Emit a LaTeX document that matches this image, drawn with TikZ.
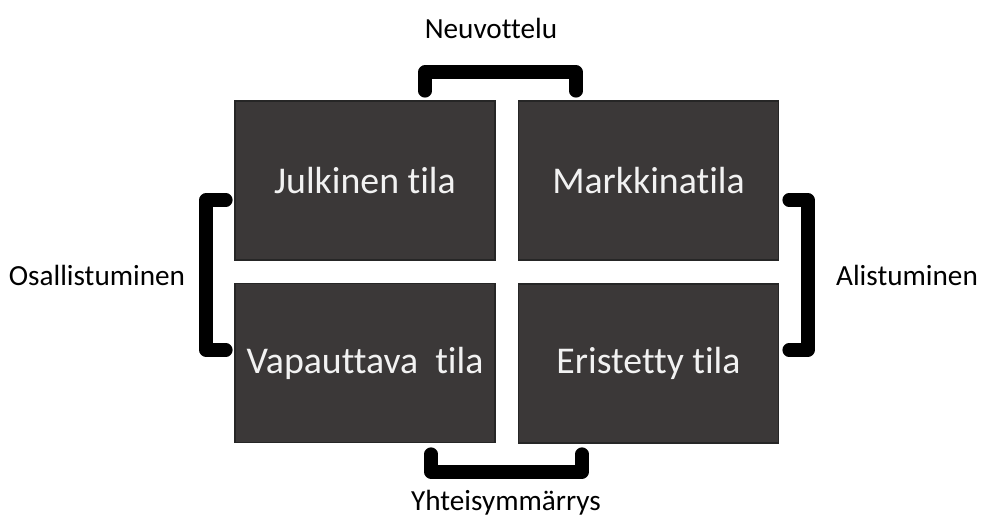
\documentclass[tikz,border=0pt]{standalone}
\usepackage{fontspec}
\setmainfont{Carlito}[RawFeature={-liga;-clig;-calt;-dlig;-rlig}]
\definecolor{boxfill}{HTML}{3B3838}
\definecolor{boxline}{HTML}{262626}
\definecolor{boxtext}{HTML}{F2F2F2}
\begin{document}
\begin{tikzpicture}[x=0.5pt,y=-0.5pt,
  space/.style={draw=boxline,line width=0.8pt,fill=boxfill,minimum width=130pt,
    minimum height=79.5pt,inner sep=0pt,text=boxtext,font=\fontsize{18.9}{22}\selectfont},
  bracket/.style={line width=6.6pt,line cap=round,line join=round},
  lbl/.style={font=\fontsize{14.6}{17}\selectfont,inner sep=0pt}]
\useasboundingbox (0,0) rectangle (981,518);
% four spaces
\node[space] (jt) at (365,180.5) {Julkinen tila};
\node[space] (mt) at (648.5,180.5) {Markkinatila};
\node[space] (vt) at (365,363) {\raisebox{-2.5pt}{Vapauttava~ tila}};
\node[space] (et) at (648.5,363.5) {Eristetty tila};
% brackets grouping pairs of spaces
\draw[bracket] (425,91) -- (425,72) -- (576,72) -- (576,91);
\draw[bracket] (431,454) -- (431,472) -- (582,472) -- (582,454);
\draw[bracket] (226,200) -- (206,200) -- (206,350) -- (226,350);
\draw[bracket] (789,200) -- (808,200) -- (808,350) -- (789,350);
% bracket labels
\node[lbl] (neu) at (491,28) {Neuvottelu};
\node[lbl] (yht) at (506,503) {Yhteisymmärrys};
\node[lbl] (osa) at (97,275) {Osallistuminen};
\node[lbl] (ali) at (907,275) {Alistuminen};
\end{tikzpicture}
\end{document}
